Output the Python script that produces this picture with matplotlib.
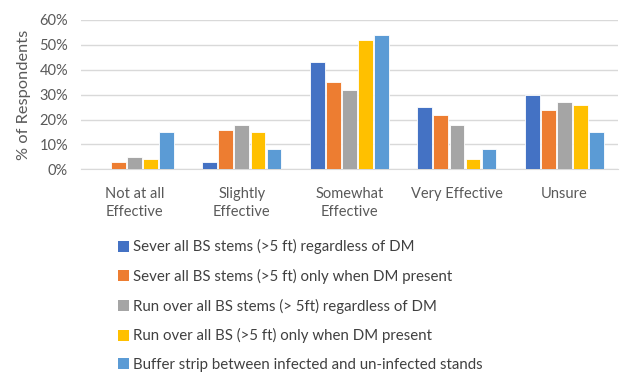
import numpy as np
import matplotlib.pyplot as plt
from matplotlib.patches import Patch

categories = ["Not at all\nEffective", "Slightly\nEffective", "Somewhat\nEffective",
              "Very Effective", "Unsure"]
series_names = ["Sever all BS stems (>5 ft) regardless of DM",
                "Sever all BS stems (>5 ft) only when DM present",
                "Run over all BS stems (> 5ft) regardless of DM",
                "Run over all BS (>5 ft) only when DM present",
                "Buffer strip between infected and un-infected stands"]
sever_all = [0, 3, 43, 25, 30]
sever_dm = [3, 16, 35, 22, 24]
run_all = [5, 18, 32, 18, 27]
run_dm = [4, 15, 52, 4, 26]
buffer_strip = [15, 8, 54, 8, 15]
colors = ["#4472C4", "#ED7D31", "#A5A5A5", "#FFC000", "#5B9BD5"]

plt.rcParams['font.family'] = ['Lato', 'DejaVu Sans']
text_col = "#595959"

fig = plt.figure(figsize=(6.2, 3.74), dpi=100)
ax = fig.add_axes([0.13, 0.547, 0.867, 0.4])

values = [sever_all, sever_dm, run_all, run_dm, buffer_strip]
x = np.arange(len(categories))
slot = 0.149
for i, (vals, c) in enumerate(zip(values, colors)):
    ax.bar(x + (i - 2) * slot, np.array(vals) / 100, width=slot * 0.92,
           color=c, edgecolor="white", linewidth=0.6, zorder=3)

ax.set_xlim(-0.5, len(categories) - 0.5)
ax.set_ylim(0, 0.6)
ax.set_yticks(np.arange(0, 0.61, 0.1))
ax.set_yticklabels([f"{int(round(v * 100))}%" for v in np.arange(0, 0.61, 0.1)])
ax.set_xticks(x)
ax.set_xticklabels(categories, linespacing=1.35)
ax.tick_params(axis="both", length=0, colors=text_col, labelsize=10.5)
ax.tick_params(axis="x", pad=13)
ax.tick_params(axis="y", pad=9)
ax.grid(axis="y", color="#D9D9D9", linewidth=1.0, zorder=0)
for s in ["top", "right", "left"]:
    ax.spines[s].set_visible(False)
ax.spines["bottom"].set_color("#D9D9D9")
ax.set_ylabel("% of Respondents", color=text_col, fontsize=11.8, labelpad=6)

handles = [Patch(facecolor=c, edgecolor="none") for c in colors]
leg = fig.legend(handles, series_names, loc="upper left", bbox_to_anchor=(0.18, 0.376),
                 frameon=False, fontsize=10.8, handlelength=0.75, handleheight=0.75,
                 handletextpad=0.3, labelspacing=0.97, borderaxespad=0)
for t in leg.get_texts():
    t.set_color("#404040")

fig.savefig("out.png", dpi=100, facecolor="white")
